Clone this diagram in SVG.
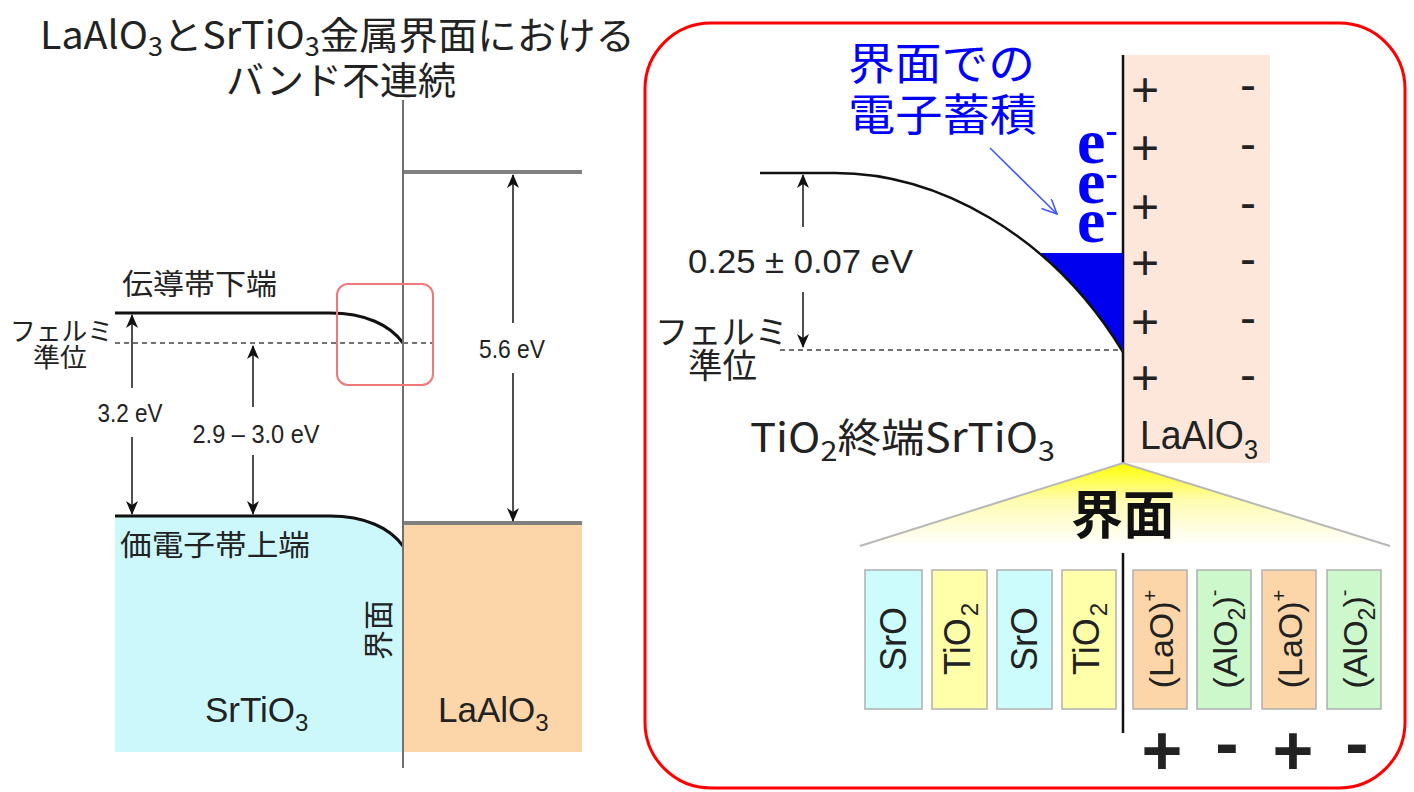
<svg xmlns="http://www.w3.org/2000/svg" width="1414" height="792" viewBox="0 0 1414 792">
<style>
.jp{font-family:"Noto Sans CJK JP","Noto Sans",sans-serif;fill:#222}
.sans{font-family:"Liberation Sans",Arial,sans-serif;fill:#222}
.serif{font-family:"Liberation Serif","Times New Roman",serif}
.blue{fill:#0000ff}
.box{stroke:#b0b0b0;stroke-width:1.5}
.arr{stroke:#222;stroke-width:1.6;fill:none;marker-end:url(#ah)}
.band{stroke:#111;stroke-width:3;fill:none}
.gray{stroke:#808080;stroke-width:4}
.dash{stroke:#444;stroke-width:1.5;stroke-dasharray:5 4;fill:none}
</style>
<defs>
<marker id="ah" markerUnits="userSpaceOnUse" markerWidth="14" markerHeight="12" viewBox="0 0 14 12" refX="13" refY="6" orient="auto">
<path d="M0,0 L14,6 L0,12 L4,6 Z" fill="#111"/>
</marker>
<marker id="bh" markerUnits="userSpaceOnUse" markerWidth="16" markerHeight="14" viewBox="0 0 16 14" refX="15" refY="7" orient="auto">
<path d="M0,0 L15,7 L0,14" fill="none" stroke="#3a55ff" stroke-width="1.5"/>
</marker>
<linearGradient id="yg" x1="0" y1="0" x2="0" y2="1">
<stop offset="0" stop-color="#ffff00"/>
<stop offset="0.45" stop-color="#fffcb0"/>
<stop offset="1" stop-color="#ffffff"/>
</linearGradient>
<clipPath id="bluec"><rect x="900" y="253" width="223" height="110"/></clipPath>
</defs>

<!-- LEFT PANEL -->
<g id="title">
<text class="jp" x="40" y="49" font-size="38" textLength="595" lengthAdjust="spacingAndGlyphs">LaAlO<tspan font-size="26" dy="7">3</tspan><tspan dy="-7">とSrTiO</tspan><tspan font-size="26" dy="7">3</tspan><tspan dy="-7">金属界面における</tspan></text>
<text class="jp" x="341" y="94" font-size="38" text-anchor="middle">バンド不連続</text>
</g>

<g id="srtio3-region">
<path d="M115,516 L330,516 C365,516 390,528 403,546 L403,752 L115,752 Z" fill="#ccf8fc"/>
<path class="band" d="M115,516 L330,516 C365,516 390,528 403,546"/>
<text class="jp" x="120" y="556" font-size="29" textLength="190" lengthAdjust="spacingAndGlyphs">価電子帯上端</text>
<text class="sans" x="205" y="722" font-size="35">SrTiO<tspan font-size="24" dy="9">3</tspan></text>
</g>

<g id="laalo3-region">
<rect x="403" y="523" width="179" height="229" fill="#fcd5a8"/>
<line class="gray" x1="403" y1="523" x2="582" y2="523"/>
<line class="gray" x1="403" y1="172" x2="582" y2="172"/>
<text class="sans" x="438" y="722" font-size="35">LaAlO<tspan font-size="24" dy="9">3</tspan></text>
</g>

<g id="conduction-band">
<path class="band" d="M115,313 L330,313 C365,313 390,325 403,343"/>
<text class="jp" x="122" y="295" font-size="29" textLength="155" lengthAdjust="spacingAndGlyphs">伝導帯下端</text>
</g>

<g id="fermi-left">
<line class="dash" x1="115" y1="343" x2="433" y2="343"/>
<text class="jp" x="10" y="341" font-size="26" textLength="103" lengthAdjust="spacingAndGlyphs">フェルミ</text>
<text class="jp" x="33" y="367" font-size="26" textLength="54" lengthAdjust="spacingAndGlyphs">準位</text>
</g>

<g id="interface-left">
<line x1="403" y1="100" x2="403" y2="768" stroke="#707070" stroke-width="2"/>
<rect x="337" y="284" width="96" height="101" rx="11" fill="none" stroke="#f07878" stroke-width="2"/>
<text class="jp" transform="translate(378,630) rotate(-90)" x="0" y="11" font-size="30" text-anchor="middle">界面</text>
</g>

<g id="labels-left">
<text class="sans" x="130" y="422" font-size="25" text-anchor="middle" textLength="65" lengthAdjust="spacingAndGlyphs">3.2 eV</text>
<text class="sans" x="256" y="443" font-size="25" text-anchor="middle" textLength="127" lengthAdjust="spacingAndGlyphs">2.9 – 3.0 eV</text>
<text class="sans" x="512" y="358" font-size="25" text-anchor="middle" textLength="66" lengthAdjust="spacingAndGlyphs">5.6 eV</text>
</g>

<!-- RIGHT PANEL -->
<g id="frame-right">
<rect x="645" y="23" width="760" height="765" rx="66" fill="none" stroke="#ff0000" stroke-width="3"/>
</g>

<g id="laalo3-right">
<rect x="1123" y="55" width="147" height="408" fill="#fde6da"/>
<text class="sans" font-size="48" text-anchor="middle"><tspan x="1145" y="106">+</tspan><tspan x="1145" y="164">+</tspan><tspan x="1145" y="223">+</tspan><tspan x="1145" y="279">+</tspan><tspan x="1145" y="338">+</tspan><tspan x="1145" y="394">+</tspan></text>
<text class="sans" font-size="48" text-anchor="middle"><tspan x="1248" y="101">-</tspan><tspan x="1248" y="160">-</tspan><tspan x="1248" y="219">-</tspan><tspan x="1248" y="275">-</tspan><tspan x="1248" y="334">-</tspan><tspan x="1248" y="391">-</tspan></text>
<text class="sans" x="1140" y="449" font-size="40" textLength="118" lengthAdjust="spacingAndGlyphs">LaAlO<tspan font-size="27" dy="10">3</tspan></text>
<line x1="1123" y1="55" x2="1123" y2="463" stroke="#111" stroke-width="2.5"/>
</g>

<g id="band-right">
<path d="M835,173 C935,173 1050,232 1123,352 L1123,173 Z" fill="#0000ee" clip-path="url(#bluec)"/>
<path d="M760,173 L835,173 C935,173 1050,232 1123,352" fill="none" stroke="#111" stroke-width="2.5"/>
<line class="dash" x1="780" y1="350" x2="1123" y2="350" stroke-dasharray="4 4"/>
<text class="sans" x="688" y="273" font-size="34" textLength="225" lengthAdjust="spacingAndGlyphs">0.25 ± 0.07 eV</text>
<text class="jp" x="655" y="344" font-size="33" textLength="133" lengthAdjust="spacingAndGlyphs">フェルミ</text>
<text class="jp" x="688" y="378" font-size="34" textLength="69" lengthAdjust="spacingAndGlyphs">準位</text>
<text class="jp" x="750" y="452" font-size="40" textLength="305" lengthAdjust="spacingAndGlyphs">TiO<tspan font-size="28" dy="9">2</tspan><tspan dy="-9">終端SrTiO</tspan><tspan font-size="28" dy="9">3</tspan></text>
</g>

<g id="electron-accumulation">
<text class="jp blue" x="848" y="80" font-size="44" textLength="187" lengthAdjust="spacingAndGlyphs" style="fill:#0000ff">界面での</text>
<text class="jp blue" x="848" y="131" font-size="44" textLength="189" lengthAdjust="spacingAndGlyphs" style="fill:#0000ff">電子蓄積</text>
<text class="serif blue" font-size="64" font-weight="bold"><tspan x="1077" y="163">e</tspan><tspan font-size="36" dy="-21">-</tspan><tspan x="1077" y="203">e</tspan><tspan font-size="36" dy="-18">-</tspan><tspan x="1077" y="242">e</tspan><tspan font-size="36" dy="-20">-</tspan></text>
</g>

<g id="interface-zoom">
<polygon points="1123,463 1390,546 860,546" fill="url(#yg)"/>
<polyline points="860,546 1123,463 1390,546" fill="none" stroke="#b8b8b8" stroke-width="2"/>
<text class="jp" x="1123" y="534" font-size="52" font-weight="bold" text-anchor="middle" style="fill:#111">界面</text>
<line x1="1123" y1="553" x2="1123" y2="733" stroke="#111" stroke-width="2.5"/>
</g>

<g id="layer-SrO-1"><rect class="box" x="865" y="570" width="57" height="139" fill="#ccfcfc"/><text class="sans" transform="translate(893,639) rotate(-90)" x="0" y="12.5" font-size="36" text-anchor="middle">SrO</text></g>
<g id="layer-TiO2-1"><rect class="box" x="932" y="570" width="55" height="139" fill="#ffffaa"/><text class="sans" transform="translate(957,639) rotate(-90)" x="0" y="12.5" font-size="36" text-anchor="middle">TiO<tspan font-size="24" dx="2" baseline-shift="-8">2</tspan></text></g>
<g id="layer-SrO-2"><rect class="box" x="997" y="570" width="55" height="139" fill="#ccfcfc"/><text class="sans" transform="translate(1024,639) rotate(-90)" x="0" y="12.5" font-size="36" text-anchor="middle">SrO</text></g>
<g id="layer-TiO2-2"><rect class="box" x="1062" y="570" width="54" height="139" fill="#ffffaa"/><text class="sans" transform="translate(1086,639) rotate(-90)" x="0" y="12.5" font-size="36" text-anchor="middle">TiO<tspan font-size="24" dx="2" baseline-shift="-8">2</tspan></text></g>
<g id="layer-LaO-1"><rect class="box" x="1133" y="570" width="54" height="139" fill="#fcd5a8"/><text class="sans" transform="translate(1160,639) rotate(-90)" x="0" y="12.5" font-size="34" text-anchor="middle">(LaO)<tspan font-size="20" baseline-shift="16">+</tspan></text></g>
<g id="layer-AlO2-1"><rect class="box" x="1197" y="570" width="54" height="139" fill="#ccf8cc"/><text class="sans" transform="translate(1224,639) rotate(-90)" x="0" y="12.5" font-size="34" text-anchor="middle">(AlO<tspan font-size="23" baseline-shift="-8">2</tspan>)<tspan font-size="20" baseline-shift="16">-</tspan></text></g>
<g id="layer-LaO-2"><rect class="box" x="1262" y="570" width="54" height="139" fill="#fcd5a8"/><text class="sans" transform="translate(1289,639) rotate(-90)" x="0" y="12.5" font-size="34" text-anchor="middle">(LaO)<tspan font-size="20" baseline-shift="16">+</tspan></text></g>
<g id="layer-AlO2-2"><rect class="box" x="1327" y="570" width="54" height="139" fill="#ccf8cc"/><text class="sans" transform="translate(1354,639) rotate(-90)" x="0" y="12.5" font-size="34" text-anchor="middle">(AlO<tspan font-size="23" baseline-shift="-8">2</tspan>)<tspan font-size="20" baseline-shift="16">-</tspan></text></g>

<g id="layer-charges" class="sans" font-size="70" font-weight="bold" text-anchor="middle">
<text x="1162" y="775">+</text><text x="1227" y="767">-</text>
<text x="1293" y="775">+</text><text x="1357" y="767">-</text>
</g>

<g id="connectors">
<line class="arr" x1="132" y1="388" x2="132" y2="315"/>
<line class="arr" x1="132" y1="437" x2="132" y2="514"/>
<line class="arr" x1="253" y1="407" x2="253" y2="346"/>
<line class="arr" x1="253" y1="455" x2="253" y2="514"/>
<line class="arr" x1="513" y1="323" x2="513" y2="175"/>
<line class="arr" x1="513" y1="373" x2="513" y2="521"/>
<line class="arr" x1="803" y1="227" x2="803" y2="175"/>
<line class="arr" x1="803" y1="292" x2="803" y2="347"/>
<line x1="990" y1="148" x2="1057" y2="214" stroke="#3a55ff" stroke-width="1.5" marker-end="url(#bh)"/>
</g>
</svg>
